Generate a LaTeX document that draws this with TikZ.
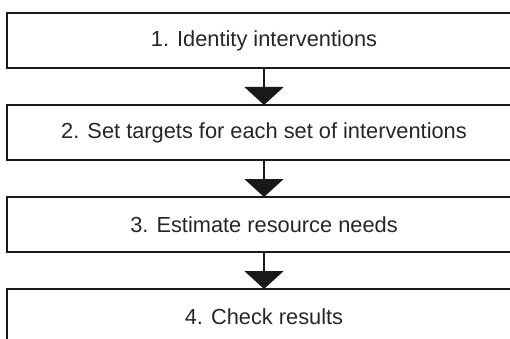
\documentclass[tikz,border=0pt]{standalone}
\usepackage{fontspec}
\setmainfont{Liberation Sans}
\usetikzlibrary{positioning,arrows.meta}
\begin{document}
\begin{tikzpicture}[node distance=37pt, >={Triangle[width=39pt,length=18pt]}]
  % Define styles
  \tikzstyle{stepbox}=[rectangle, draw=black!90, line width=2pt, outer sep=0pt, inner sep=0pt, minimum width=514pt, minimum height=55pt, text=black!85, font=\fontsize{21.8}{24}\selectfont]
  \tikzstyle{flow}=[->, line width=2pt, draw=black!90, fill=black!90]

  \useasboundingbox (0,0) rectangle (510pt,-339pt);

  % Steps
  \node[stepbox] (identify) at (264pt,-40.5pt) {1. Identity interventions};
  \node[stepbox, below=of identify] (targets) {2. Set targets for each set of interventions};
  \node[stepbox, below=of targets] (needs) {3. Estimate resource needs};
  \node[stepbox, below=of needs] (check) {4. Check results};

  % Arrows
  \draw[flow] (identify) -- (targets);
  \draw[flow] (targets) -- (needs);
  \draw[flow] (needs) -- (check);
\end{tikzpicture}
\end{document}
